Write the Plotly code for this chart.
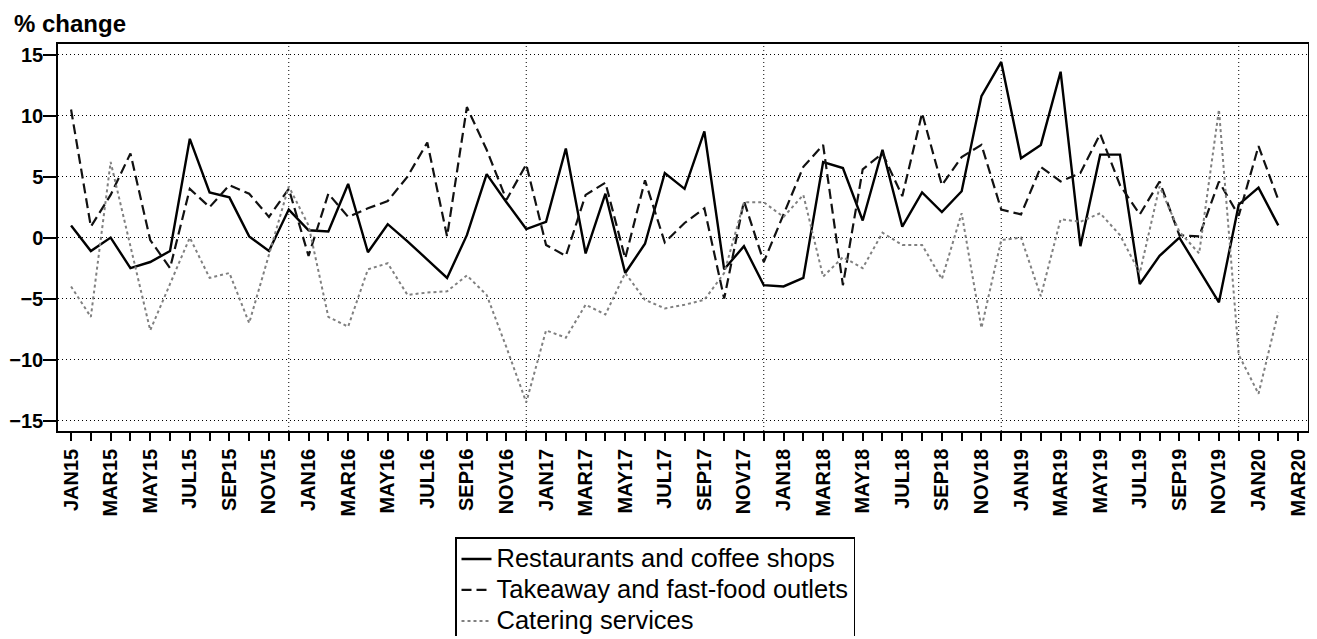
import plotly.graph_objects as go

FONT = "Liberation Sans, Arial, sans-serif"

months = ["JAN15", "FEB15", "MAR15", "APR15", "MAY15", "JUN15", "JUL15", "AUG15", "SEP15", "OCT15", "NOV15", "DEC15",
          "JAN16", "FEB16", "MAR16", "APR16", "MAY16", "JUN16", "JUL16", "AUG16", "SEP16", "OCT16", "NOV16", "DEC16",
          "JAN17", "FEB17", "MAR17", "APR17", "MAY17", "JUN17", "JUL17", "AUG17", "SEP17", "OCT17", "NOV17", "DEC17",
          "JAN18", "FEB18", "MAR18", "APR18", "MAY18", "JUN18", "JUL18", "AUG18", "SEP18", "OCT18", "NOV18", "DEC18",
          "JAN19", "FEB19", "MAR19", "APR19", "MAY19", "JUN19", "JUL19", "AUG19", "SEP19", "OCT19", "NOV19", "DEC19",
          "JAN20", "FEB20"]

restaurants = [1.0, -1.1, 0.0, -2.5, -2.0, -1.1, 8.1, 3.7, 3.3, 0.1, -1.1, 2.3,
               0.6, 0.5, 4.4, -1.2, 1.1, -0.3, -1.8, -3.3, 0.2, 5.2, 2.9, 0.7,
               1.3, 7.3, -1.3, 3.6, -2.9, -0.5, 5.3, 4.0, 8.7, -2.6, -0.7, -3.9,
               -4.0, -3.3, 6.2, 5.7, 1.4, 7.2, 0.9, 3.7, 2.1, 3.8, 11.6, 14.4,
               6.5, 7.6, 13.6, -0.7, 6.8, 6.8, -3.8, -1.5, 0.0, -2.7, -5.3, 2.7,
               4.1, 1.0]

takeaway = [10.5, 0.9, 3.5, 6.9, -0.2, -2.5, 4.0, 2.5, 4.3, 3.6, 1.7, 4.0,
            -1.5, 3.6, 1.7, 2.4, 3.0, 5.0, 7.8, 0.1, 10.7, 7.2, 3.1, 6.0,
            -0.6, -1.5, 3.5, 4.5, -1.7, 4.7, -0.4, 1.2, 2.4, -5.0, 3.0, -2.0,
            1.9, 5.8, 7.6, -3.9, 5.6, 6.9, 3.4, 10.2, 4.3, 6.6, 7.6, 2.3,
            1.9, 5.8, 4.6, 5.3, 8.5, 4.3, 1.9, 4.6, 0.2, 0.1, 4.6, 1.8,
            7.5, 3.1]

catering = [-4.0, -6.5, 6.2, -0.8, -7.6, -3.8, 0.0, -3.3, -2.9, -7.0, -1.3, 4.2,
            1.0, -6.5, -7.3, -2.6, -2.1, -4.7, -4.5, -4.4, -3.1, -4.7, -9.0, -13.5,
            -7.6, -8.2, -5.5, -6.3, -2.9, -5.1, -5.8, -5.5, -5.1, -2.9, 2.9, 2.9,
            1.7, 3.5, -3.2, -1.6, -2.5, 0.4, -0.6, -0.6, -3.4, 2.0, -7.4, -0.2,
            0.0, -4.8, 1.5, 1.3, 2.0, 0.2, -2.9, 4.2, 0.5, -1.3, 10.5, -9.6,
            -12.8, -6.1]

tick_labels = ["JAN15", "MAR15", "MAY15", "JUL15", "SEP15", "NOV15",
               "JAN16", "MAR16", "MAY16", "JUL16", "SEP16", "NOV16",
               "JAN17", "MAR17", "MAY17", "JUL17", "SEP17", "NOV17",
               "JAN18", "MAR18", "MAY18", "JUL18", "SEP18", "NOV18",
               "JAN19", "MAR19", "MAY19", "JUL19", "SEP19", "NOV19",
               "JAN20", "MAR20"]

y_ticks = [-15, -10, -5, 0, 5, 10, 15]
year_ends = ["DEC15", "DEC16", "DEC17", "DEC18", "DEC19"]

series_names = ["Restaurants and coffee shops", "Takeaway and fast-food outlets", "Catering services"]

x = list(range(len(months)))
tick_pos = [2 * k for k in range(len(tick_labels))]
minor_pos = [2 * k + 1 for k in range(len(tick_labels) - 1)]
grid_x = [months.index(m) for m in year_ends]


def legend_label(s):
    return '<span style="font-size:25.5px">' + s + '</span>'


fig = go.Figure()
fig.add_trace(go.Scatter(x=x, y=restaurants, mode="lines", name=legend_label(series_names[0]),
                         line=dict(color="black", width=2.4)))
fig.add_trace(go.Scatter(x=x, y=takeaway, mode="lines", name=legend_label(series_names[1]),
                         line=dict(color="#111111", width=2.2, dash="10px,5px")))
fig.add_trace(go.Scatter(x=x, y=catering, mode="lines", name=legend_label(series_names[2]),
                         line=dict(color="#808080", width=2, dash="dot")))

for g in grid_x:
    fig.add_shape(type="line", xref="x", yref="paper", x0=g, x1=g, y0=0, y1=1,
                  line=dict(color="black", width=1, dash="1px,3px"), layer="below")

# page body has an 8px margin: figure origin sits at (8, 8) in the window
W, H = 1305, 628
fig.update_layout(
    width=W, height=H,
    margin=dict(l=50, r=5, t=36, b=205, autoexpand=False),
    paper_bgcolor="white", plot_bgcolor="white",
    font=dict(family=FONT, color="black"),
    showlegend=True,
    legend=dict(xref="container", yref="container",
                x=447 / W, y=1 - 529 / H, xanchor="left", yanchor="top",
                bgcolor="white", bordercolor="black", borderwidth=1.5,
                font=dict(family=FONT, size=21.5, color="black"),
                itemwidth=30, tracegroupgap=0),
    annotations=[dict(text="% change", xref="paper", yref="paper",
                      x=-46 / 1250, y=(431 - 8) / 387, xanchor="left", yanchor="top",
                      showarrow=False,
                      font=dict(family=FONT, size=24, color="black", weight="bold"))],
)

fig.update_xaxes(
    range=[-0.66, 62.5], automargin=False,
    tickmode="array", tickvals=tick_pos, ticktext=tick_labels,
    ticks="outside", ticklen=8, tickwidth=1.5, tickcolor="black",
    tickangle=-90,
    tickfont=dict(family=FONT, size=20, color="black", weight="bold"),
    showgrid=False, zeroline=False,
    showline=True, mirror=True, linecolor="black", linewidth=1.5,
    minor=dict(tickmode="array", tickvals=minor_pos, ticks="outside", ticklen=8,
               tickwidth=1.5, tickcolor="black", showgrid=False),
)

fig.update_yaxes(
    range=[-15.85, 15.87], automargin=False,
    tickmode="array", tickvals=y_ticks,
    ticks="outside", ticklen=13, tickwidth=1.5, tickcolor="black",
    ticklabelstandoff=-4,
    tickfont=dict(family=FONT, size=20, color="black", weight="bold"),
    showgrid=True, gridcolor="black", gridwidth=1, griddash="1px,3px",
    zeroline=False,
    showline=True, mirror=True, linecolor="black", linewidth=1.5,
)

fig.write_html("out.html")
